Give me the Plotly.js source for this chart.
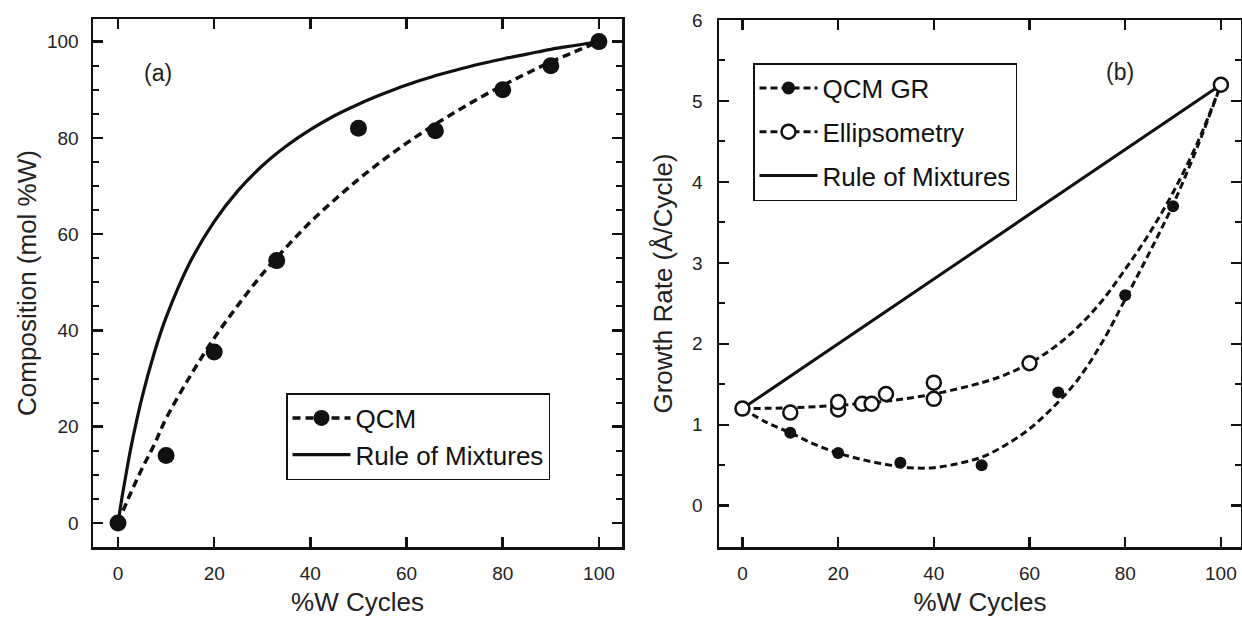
<!DOCTYPE html>
<html>
<head>
<meta charset="utf-8">
<script src="https://cdn.plot.ly/plotly-3.0.1.min.js"></script>
<style>html,body{margin:0;padding:0;background:#fff;}#chart{width:1242px;height:617px;}</style>
</head>
<body>
<div id="chart"></div>
<script>
// ---- Panel (a): composition ----
const qcmX = [0, 10, 20, 33, 50, 66, 80, 90, 100];
const qcmY = [0, 14, 35.5, 54.5, 82, 81.5, 90, 95, 100];
const qcmFitX = [0, 2.5, 5, 7.5, 10, 15, 20, 25, 30, 35, 40, 45, 50, 55, 60, 65, 70, 75, 80, 85, 90, 95, 100];
const qcmFitY = [0, 5.9, 11.3, 16.2, 21.7, 30.5, 38.4, 45.3, 51.7, 57.3, 62.5, 67.1, 71.4, 75.3, 78.9, 82.2, 85.3, 88.2, 90.9, 93.4, 95.8, 97.9, 100];
const romX = [0, 1, 2, 3, 5, 7.5, 10, 15, 20, 25, 30, 35, 40, 45, 50, 55, 60, 65, 70, 75, 80, 85, 90, 95, 100];
const romY = [0, 6.3, 12, 17.2, 26.1, 35.2, 42.7, 54.2, 62.6, 69.1, 74.2, 78.3, 81.7, 84.6, 87.0, 89.1, 91.0, 92.6, 94.0, 95.3, 96.4, 97.4, 98.4, 99.2, 100];

// ---- Panel (b): growth rate ----
const grX = [0, 10, 20, 33, 50, 66, 80, 90, 100];
const grY = [1.2, 0.9, 0.65, 0.53, 0.5, 1.4, 2.6, 3.7, 5.2];
const ellX = [0, 10, 20, 20, 25, 27, 30, 40, 40, 60, 100];
const ellY = [1.2, 1.15, 1.19, 1.28, 1.26, 1.26, 1.38, 1.32, 1.52, 1.76, 5.2];
const grFitX = [0, 5, 10, 15, 20, 25, 30, 35, 40, 45, 50, 55, 60, 65, 70, 75, 80, 85, 90, 95, 100];
const grFitY = [1.2, 1.03, 0.9, 0.76, 0.65, 0.57, 0.51, 0.47, 0.47, 0.52, 0.6, 0.75, 0.95, 1.22, 1.55, 2.0, 2.55, 3.12, 3.72, 4.42, 5.2];
const ellFitX = [0, 10, 20, 30, 40, 50, 55, 60, 65, 70, 75, 80, 85, 90, 95, 100];
const ellFitY = [1.2, 1.21, 1.24, 1.29, 1.38, 1.52, 1.62, 1.76, 1.95, 2.2, 2.52, 2.92, 3.36, 3.87, 4.47, 5.2];
const romBX = [0, 100];
const romBY = [1.2, 5.2];

// ---- Text ----
const xTitle = '%W Cycles';
const yTitleA = 'Composition (mol %W)';
const yTitleB = 'Growth Rate (Å/Cycle)';
const nameQCM = 'QCM';
const nameROM = 'Rule of Mixtures';
const nameGR = 'QCM GR';
const nameEll = 'Ellipsometry';
const labelA = '(a)';
const labelB = '(b)';

const FONT = 'Liberation Sans, Arial, Helvetica, sans-serif';
const INK = '#111';
const W = 1242, H = 617;
const px = v => v / W;
const py = v => (H - v) / H;

const traces = [
  // (a)
  {x: qcmFitX, y: qcmFitY, xaxis: 'x', yaxis: 'y', mode: 'lines+markers', name: nameQCM, legend: 'legend',
   line: {color: INK, width: 3.5, dash: '8px,5px', shape: 'spline'},
   marker: {color: INK, size: 17, symbol: 'circle'},
   selectedpoints: [], unselected: {marker: {opacity: 0}}, hoverinfo: 'skip'},
  {x: romX, y: romY, xaxis: 'x', yaxis: 'y', mode: 'lines', name: nameROM, legend: 'legend',
   line: {color: INK, width: 3.2, shape: 'spline'}},
  {x: qcmX, y: qcmY, xaxis: 'x', yaxis: 'y', mode: 'markers', showlegend: false,
   marker: {color: INK, size: 17, symbol: 'circle'}},
  // (b)
  {x: romBX, y: romBY, xaxis: 'x2', yaxis: 'y2', mode: 'lines', name: nameROM, legend: 'legend2',
   legendgroup: 'g3', legendrank: 3,
   line: {color: INK, width: 3}},
  {x: grFitX, y: grFitY, xaxis: 'x2', yaxis: 'y2', mode: 'lines+markers', name: nameGR, legend: 'legend2',
   legendgroup: 'g1', legendrank: 1,
   line: {color: INK, width: 3, dash: '7px,4px', shape: 'spline'},
   marker: {color: INK, size: 13, symbol: 'circle'},
   selectedpoints: [], unselected: {marker: {opacity: 0}}, hoverinfo: 'skip'},
  {x: ellFitX, y: ellFitY, xaxis: 'x2', yaxis: 'y2', mode: 'lines+markers', name: nameEll, legend: 'legend2',
   legendgroup: 'g2', legendrank: 2,
   line: {color: INK, width: 3, dash: '7px,4px', shape: 'spline'},
   marker: {color: '#fff', size: 14, symbol: 'circle', line: {color: INK, width: 2.5}},
   selectedpoints: [], unselected: {marker: {opacity: 0}}, hoverinfo: 'skip'},
  {x: grX, y: grY, xaxis: 'x2', yaxis: 'y2', mode: 'markers', showlegend: false,
   marker: {color: INK, size: 12, symbol: 'circle'}},
  {x: ellX, y: ellY, xaxis: 'x2', yaxis: 'y2', mode: 'markers', showlegend: false,
   marker: {color: '#fff', size: 14, symbol: 'circle', line: {color: INK, width: 2.5}}}
];

const axBase = {
  showline: true, linecolor: INK, linewidth: 2.5, mirror: 'ticks',
  ticks: 'inside', ticklen: 10, tickwidth: 2.5, tickcolor: INK,
  showgrid: false, zeroline: false, automargin: false,
  tickfont: {family: FONT, size: 19, color: '#222'}
};
const titleFont = {family: FONT, size: 26, color: '#222'};

const layout = {
  width: W, height: H,
  margin: {l: 0, r: 0, t: 0, b: 0},
  paper_bgcolor: '#fff', plot_bgcolor: '#fff',
  font: {family: FONT, color: '#222'},
  xaxis: Object.assign({}, axBase, {
    domain: [px(93), px(622)], range: [-5.2, 104.8], anchor: 'y',
    tickvals: [0, 20, 40, 60, 80, 100], ticklabelstandoff: 8,
    title: {text: xTitle, font: titleFont, standoff: 10}
  }),
  yaxis: Object.assign({}, axBase, {
    domain: [py(547), py(19)], range: [-5, 104.7], anchor: 'x',
    tickvals: [0, 20, 40, 60, 80, 100], ticklabelstandoff: 8,
    minor: {dtick: 5, ticks: 'inside', ticklen: 6, tickwidth: 2, tickcolor: INK, showgrid: false},
    title: {text: yTitleA, font: titleFont, standoff: 3}
  }),
  xaxis2: Object.assign({}, axBase, {
    domain: [px(719), px(1241)], range: [-4.9, 104.2], anchor: 'y2',
    tickvals: [0, 20, 40, 60, 80, 100], ticklabelstandoff: 8,
    title: {text: xTitle, font: titleFont, standoff: 10}
  }),
  yaxis2: Object.assign({}, axBase, {
    domain: [py(547), py(20)], range: [-0.51, 6], anchor: 'x2',
    tickvals: [0, 1, 2, 3, 4, 5, 6], ticklabelstandoff: 10,
    minor: {dtick: 0.5, ticks: 'inside', ticklen: 6, tickwidth: 2, tickcolor: INK, showgrid: false},
    title: {text: yTitleB, font: titleFont, standoff: 12}
  }),
  legend: {
    x: px(286), y: py(393), xanchor: 'left', yanchor: 'top',
    bgcolor: '#fff', bordercolor: INK, borderwidth: 1.5,
    font: {family: FONT, size: 26, color: '#111'},
    itemwidth: 58, tracegroupgap: 0, traceorder: 'normal'
  },
  legend2: {
    x: px(753), y: py(63), xanchor: 'left', yanchor: 'top',
    bgcolor: '#fff', bordercolor: INK, borderwidth: 1.5,
    font: {family: FONT, size: 26, color: '#111'},
    itemwidth: 58, tracegroupgap: 7, traceorder: 'grouped'
  },
  annotations: [
    {text: labelA, xref: 'paper', yref: 'paper', x: px(158), y: py(73), showarrow: false,
     font: {family: FONT, size: 23, color: '#222'}, xanchor: 'center', yanchor: 'middle'},
    {text: labelB, xref: 'paper', yref: 'paper', x: px(1120), y: py(72), showarrow: false,
     font: {family: FONT, size: 23, color: '#222'}, xanchor: 'center', yanchor: 'middle'}
  ],
  showlegend: true
};

Plotly.newPlot('chart', traces, layout, {staticPlot: true, displayModeBar: false});
</script>
</body>
</html>
